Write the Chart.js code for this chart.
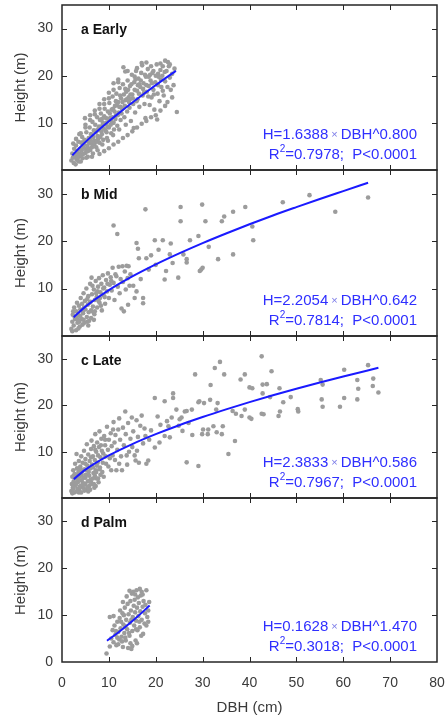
<!DOCTYPE html>
<html>
<head>
<meta charset="utf-8">
<script src="https://cdn.jsdelivr.net/npm/chart.js@4.4.0/dist/chart.umd.min.js"></script>
<style>
  html, body { margin: 0; padding: 0; background: #fff; }
  #wrap { position: relative; width: 448px; height: 719px; overflow: hidden; }
  canvas { position: absolute; left: 0; }
</style>
</head>
<body>
<div id="wrap">
  <canvas id="cA" width="448" height="180" style="top:0px"></canvas>
  <canvas id="cB" width="448" height="186" style="top:160px"></canvas>
  <canvas id="cC" width="448" height="182" style="top:326px"></canvas>
  <canvas id="cD" width="448" height="231" style="top:488px"></canvas>
</div>
<script>
// ── Data: [DBH (cm), Height (m)] ──────────────────────────────────────────
var earlyPts = [
  [2.0,2.0],[2.2,3.5],[2.5,1.5],[2.6,4.5],[2.8,2.8],[3.0,5.2],[3.1,2.2],[3.3,3.8],[3.5,6.0],[3.6,1.8],
  [3.8,4.4],[4.0,3.0],[4.1,5.8],[4.3,7.0],[4.4,2.5],[4.6,4.8],[4.8,6.4],[4.9,11.0],[5.0,3.6],[5.2,8.0],
  [5.4,5.2],[5.5,2.8],[5.7,6.8],[5.9,9.0],[6.0,4.2],[6.2,7.6],[6.3,5.6],[6.5,10.2],[6.6,3.5],[6.8,8.4],
  [7.0,6.2],[7.1,9.6],[7.3,4.8],[7.5,11.2],[7.6,7.2],[7.8,8.8],[8.0,5.8],[8.1,10.6],[8.3,12.0],[8.5,7.6],
  [8.6,9.4],[8.8,6.4],[9.0,11.4],[9.1,13.0],[9.3,8.4],[9.5,10.0],[9.6,6.8],[9.8,12.4],[10.0,9.0],[10.1,14.2],
  [10.3,11.0],[10.5,7.8],[10.6,12.8],[10.8,15.6],[11.0,10.0],[11.1,8.6],[11.3,13.6],[11.5,11.6],[11.6,16.2],[11.8,9.4],
  [12.0,14.4],[12.1,12.2],[12.3,17.4],[12.5,10.6],[12.6,15.2],[12.8,13.0],[13.0,18.2],[13.1,21.8],[13.3,11.2],[13.5,20.9],
  [13.5,14.8],[13.7,16.6],[13.9,12.4],[14.0,19.0],[14.2,15.4],[14.4,13.2],[14.5,17.8],[14.7,10.4],[14.9,20.2],[15.0,16.0],
  [15.2,14.0],[15.3,8.9],[15.4,18.6],[15.6,12.2],[15.8,21.0],[16.0,16.8],[16.1,15.0],[16.3,19.4],[16.5,13.4],[16.7,17.6],
  [16.9,20.6],[17.0,22.7],[17.1,22.2],[17.2,15.8],[17.4,18.4],[17.6,14.0],[17.8,11.0],[17.9,19.8],[18.1,16.6],[18.3,21.4],
  [18.5,17.8],[18.7,13.8],[18.9,19.0],[19.1,15.4],[19.3,20.6],[19.5,17.0],[19.7,12.8],[19.9,18.6],[20.2,22.4],[20.3,10.7],
  [20.4,16.2],[20.6,19.8],[20.8,14.6],[21.0,21.2],[21.2,17.6],[21.4,20.0],[21.7,15.8],[22.0,18.8],[22.3,21.0],[22.5,14.4],
  [22.6,22.9],[22.8,22.0],[23.0,19.6],[23.2,17.0],[23.5,20.4],[23.8,18.0],[24.0,21.5],[24.5,12.3],
  [2.3,2.6],[2.7,3.2],[3.2,4.0],[3.4,2.6],[3.9,3.4],[4.2,4.2],[4.5,3.4],[4.7,5.4],[5.1,4.4],[5.3,6.2],
  [5.6,4.6],[5.8,5.8],[6.1,6.4],[6.4,4.8],[6.7,7.0],[6.9,5.4],[7.2,8.0],[7.4,6.0],[7.7,6.6],[7.9,9.2],
  [8.2,7.0],[8.4,8.2],[8.7,10.0],[8.9,8.8],[9.2,9.8],[9.4,11.0],[9.7,9.2],[9.9,10.8],[10.2,12.0],[10.4,9.6],
  [10.7,11.2],[10.9,13.0],[11.2,12.4],[11.4,10.8],[11.7,13.8],[11.9,11.6],[12.2,13.4],[12.4,15.8],[12.7,12.0],[12.9,14.4],
  [13.2,16.0],[13.4,13.6],[13.8,15.0],[14.1,17.0],[14.3,14.4],[14.6,16.0],[14.8,18.2],[15.1,15.2],[15.5,17.0],[15.7,19.2],
  [15.9,14.6],[16.2,18.0],[16.4,16.2],[16.8,19.0],[17.3,17.2],[17.7,20.2],[18.0,18.0],[18.4,15.6],[18.8,20.2],[19.2,18.4],
  [19.6,16.0],[20.0,20.0],[20.5,18.0],[21.1,19.2],[21.5,16.8],[21.9,20.8],
  [2.4,5.6],[3.7,7.6],[5.0,9.6],[6.0,11.6],[7.0,12.6],[8.0,14.0],[9.0,15.0],[10.0,16.4],[11.0,18.4],[12.0,19.2],
  [2.9,1.2],[4.0,1.8],[5.2,2.6],[6.4,2.8],[7.6,4.2],[8.6,5.4],[9.8,6.2],[10.9,7.4],[12.2,8.6],[13.6,9.6],
  [3.5,3.2],[4.5,5.8],[5.5,4.0],[6.5,6.0],[7.5,8.4],[8.5,10.8],[9.5,8.0],[10.5,10.4],[11.5,14.6],[12.5,13.4],
  [13.5,17.2],[14.5,15.0],[15.5,19.8],[16.5,18.2],[17.5,16.4],[18.5,19.8],[19.5,21.0],[20.5,20.4],[21.5,22.0],[22.5,17.6],
  [23.5,15.4],[3.0,6.6],[4.0,7.8],[5.0,9.0],[6.0,10.6],[7.0,11.8],[8.0,13.0],[9.0,14.0],[10.0,15.2],[11.0,17.0],
  [12.0,18.6],[14.0,21.0],[16.0,21.6],[18.0,22.8],[19.0,22.0],[21.0,22.6],[22.0,23.2],[23.0,22.4],
  [8.0,3.4],[9.0,4.0],[10.0,4.6],[11.0,5.4],[12.0,6.0],[13.0,6.8],[14.0,7.4],[15.0,8.2],[16.0,9.0],[17.0,9.8],
  [18.0,10.4],[19.0,11.2],[20.0,11.6],[21.0,12.6],[22.0,13.6]
];
var midPts = [
  [2.0,1.5],[2.2,3.0],[2.3,4.5],[2.5,2.2],[2.6,6.0],[2.8,3.6],[3.0,5.2],[3.0,1.2],[3.2,7.0],[3.3,2.8],
  [3.5,4.4],[3.6,6.4],[3.8,2.0],[3.9,5.6],[4.0,8.0],[4.2,3.6],[4.3,6.8],[4.5,4.8],[4.6,9.0],[4.8,2.8],
  [4.9,7.4],[5.0,5.6],[5.2,10.0],[5.3,4.0],[5.5,6.6],[5.6,8.4],[5.8,3.2],[5.9,7.0],[6.0,11.0],[6.2,5.4],
  [6.3,12.3],[6.4,8.8],[6.6,6.2],[6.8,9.8],[6.9,4.6],[7.0,7.6],[7.2,11.6],[7.4,8.2],[7.5,6.0],[7.7,10.4],
  [7.9,12.2],[8.0,7.0],[8.2,9.2],[8.4,11.0],[8.5,5.4],[8.7,12.8],[8.9,8.6],[9.0,10.2],[9.2,6.8],[9.4,11.8],
  [9.6,9.4],[9.8,13.2],[10.0,8.0],[10.2,10.8],[10.4,12.4],[10.6,9.6],[10.8,14.4],[11.0,23.3],[11.0,11.2],[11.2,7.6],
  [11.4,13.0],[11.6,12.6],[11.8,21.5],[11.9,10.4],[12.1,14.6],[12.3,9.0],[12.5,12.0],[12.7,5.8],[12.9,14.7],[13.0,11.4],
  [13.2,5.2],[13.4,13.6],[13.6,9.8],[13.8,14.8],[14.0,12.2],[14.2,14.7],[14.4,10.6],[14.6,13.0],[3.4,3.4],[4.4,5.2],
  [5.4,3.0],[6.1,7.2],[6.7,5.0],[7.3,9.0],[8.1,8.0],[8.8,10.0],[9.7,11.0],[10.5,11.6],[2.7,4.0],[3.7,3.0],
  [4.7,6.0],[5.7,5.0],[6.5,10.6],[7.8,7.4],
  [2.4,5.2],[3.1,3.8],[3.9,4.2],[4.6,3.4],[5.4,7.8],[6.2,3.8],[7.0,5.2],[7.6,9.4],[8.3,6.4],[9.1,8.2],
  [2.2,1.0],[3.5,1.6],[4.4,2.4],[5.6,2.2],[6.8,3.4],
  [17.8,26.7],[25.3,27.2],[25.3,24.2],[29.9,27.7],[30.6,24.2],[34.1,24.2],[34.6,25.2],[36.5,26.2],[39.1,27.2],[47.1,28.2],
  [52.8,29.7],[58.3,26.2],[65.3,29.2],[40.6,23.1],[40.8,20.2],[36.5,17.2],[33.3,16.2],[31.3,18.8],[29.4,13.7],[30.0,14.4],
  [29.7,14.0],[27.3,20.2],[29.1,21.1],[26.6,16.2],[26.6,15.5],[24.8,12.3],[23.6,15.4],[21.9,11.9],[22.2,13.7],[19.8,20.2],
  [21.5,20.2],[20.6,18.2],[23.2,19.5],[23.0,17.2],[25.9,17.2],[15.9,19.6],[16.2,18.4],[16.4,16.4],[18.0,16.4],[17.3,8.0],
  [17.3,6.9],[14.1,6.6],[15.5,8.0],[15.9,9.4],[15.2,10.6],[19.0,17.0],[18.5,14.0],[20.0,15.0],[16.8,12.0]
];
var latePts = [
  [2.0,1.5],[2.1,3.0],[2.2,4.6],[2.3,2.2],[2.4,6.0],[2.5,3.6],[2.6,1.2],[2.7,5.2],[2.8,7.4],[2.9,2.8],
  [3.0,4.2],[3.1,9.5],[3.2,6.4],[3.3,2.0],[3.4,3.4],[3.5,5.6],[3.6,8.0],[3.7,1.6],[3.8,4.6],[3.9,6.8],
  [4.0,2.6],[4.1,9.0],[4.2,3.8],[4.3,5.8],[4.4,7.6],[4.5,2.2],[4.6,4.4],[4.7,10.2],[4.8,6.2],[4.9,3.0],
  [5.0,8.4],[5.1,5.0],[5.2,1.8],[5.3,11.6],[5.4,7.0],[5.5,3.6],[5.6,9.4],[5.7,5.6],[5.8,2.6],[5.9,8.0],
  [6.0,6.4],[6.1,4.0],[6.2,10.6],[6.3,12.4],[6.4,7.2],[6.5,3.0],[6.6,9.0],[6.7,5.4],[6.8,11.2],[6.9,2.2],
  [7.0,8.2],[7.1,13.8],[7.2,6.0],[7.3,10.0],[7.4,4.2],[7.5,12.0],[7.6,7.6],[7.7,9.2],[7.8,3.4],[7.9,11.0],
  [8.0,14.4],[8.1,6.6],[8.2,8.8],[8.4,12.8],[8.5,10.2],[8.6,5.6],[8.8,9.6],[9.0,13.4],[9.2,11.4],[9.4,7.4],
  [9.6,15.4],[9.8,10.4],[10.0,12.6],[10.2,8.6],[10.4,14.0],[10.6,11.2],[10.8,9.2],[11.0,16.4],[11.2,12.0],[11.4,13.6],
  [11.6,6.0],[11.8,10.4],[12.0,14.8],[12.2,17.2],[12.4,12.6],[12.6,9.0],[12.8,6.0],[13.0,15.2],[13.2,11.4],[13.5,18.7],
  [13.6,13.8],[13.9,7.2],[14.1,16.2],[14.3,10.0],[14.6,12.8],[14.9,17.4],[15.2,14.4],[15.5,9.2],[15.7,8.1],[15.9,16.8],
  [16.2,13.2],[16.4,7.6],[16.7,15.6],[17.0,17.8],[17.3,11.8],[17.6,15.0],[2.6,2.6],[3.0,3.0],[3.4,4.0],[3.8,2.4],
  [4.2,5.0],[4.6,3.2],[5.0,4.4],[5.4,2.4],[5.8,4.8],[6.2,3.4],[6.6,6.6],[7.0,4.8],[7.4,7.0],[8.2,5.0],
  [2.2,1.0],[3.6,1.2],[4.8,1.6],[6.0,1.8],[7.2,2.6],
  [2.5,4.8],[3.2,5.0],[3.9,5.2],[4.4,3.0],[5.2,6.0],[5.9,3.6],[6.6,4.2],[7.3,5.6],[8.0,6.2],[8.7,7.6],
  [9.3,9.0],[9.9,6.8],[2.4,2.0],[3.1,1.4],[4.1,1.2],[5.6,1.4],[6.8,3.0],[7.7,4.2],[8.9,4.6],[10.5,6.0],
  [11.3,8.2],[12.2,7.4],[13.8,9.2],[15.0,11.0],[16.0,10.2],[10.9,14.8],[9.2,12.6],[8.3,11.4],[7.1,10.4],[6.2,8.8],
  [5.0,7.4],[4.0,6.2],
  [18.0,7.4],[18.4,8.1],[19.8,10.9],[19.8,21.6],[21.9,20.9],[21.9,13.4],[22.7,15.5],[23.0,13.1],[23.4,17.4],[23.7,22.6],
  [23.7,21.6],[24.4,19.1],[25.1,17.0],[25.5,17.4],[25.7,14.5],[26.2,18.7],[26.6,18.8],[26.6,7.7],[27.7,19.1],[27.8,13.6],
  [28.4,26.7],[29.1,20.7],[29.1,6.9],[29.3,20.9],[29.9,13.8],[30.1,14.8],[30.3,20.5],[31.1,13.8],[31.2,14.8],[31.6,21.2],
  [31.7,24.4],[32.3,15.5],[32.6,28.1],[32.9,19.1],[33.0,14.2],[33.2,20.5],[33.7,29.4],[34.1,13.8],[34.3,15.5],[34.6,26.7],
  [35.5,9.5],[36.4,18.8],[36.9,12.3],[37.1,18.2],[38.1,25.6],[38.3,17.7],[39.0,26.7],[39.0,19.1],[40.0,23.9],[40.0,17.4],
  [40.4,17.1],[40.6,23.7],[42.6,30.6],[42.6,18.2],[42.8,24.5],[42.8,22.6],[43.0,18.1],[43.7,24.6],[44.4,21.8],[44.7,27.4],
  [46.2,17.7],[46.4,23.7],[46.5,18.7],[47.2,20.7],[48.8,21.8],[50.3,19.2],[50.4,18.7],[55.2,25.5],[55.6,24.5],[55.4,21.3],
  [55.6,19.7],[59.3,19.7],[60.2,27.7],[60.2,21.6],[63.0,25.5],[63.2,23.6],[63.0,21.3],[65.3,28.7],[66.4,25.8],[66.3,24.2],
  [67.5,22.8],[20.8,12.0],[22.4,16.6],[24.9,15.6],[27.0,16.2],[19.0,14.6],[21.0,15.8],[18.6,12.6],[20.4,17.6],[17.8,13.4]
];
var palmPts = [
  [9.5,1.8],[10.2,3.3],[10.2,9.6],[10.5,5.0],[10.8,6.8],[11.0,4.2],[11.2,7.8],[11.4,5.8],[11.6,3.6],[11.8,8.6],
  [12.0,6.4],[12.2,4.8],[12.3,9.4],[12.5,7.2],[12.7,5.4],[12.9,10.4],[13.0,3.2],[13.1,8.0],[13.3,6.2],[13.4,11.6],
  [13.6,4.6],[13.7,9.0],[13.9,7.0],[14.0,12.4],[14.1,3.0],[14.2,10.2],[14.4,5.6],[14.5,8.4],[14.6,13.0],[14.7,11.0],
  [14.9,14.6],[15.0,6.6],[15.1,9.6],[15.2,15.0],[15.3,12.0],[15.4,7.8],[15.5,13.3],[15.6,10.6],[15.7,4.6],[15.8,8.8],
  [15.9,15.3],[16.0,11.6],[16.1,6.8],[16.2,13.8],[16.3,9.8],[16.4,12.6],[16.6,7.4],[16.7,10.8],[16.8,14.2],[17.0,15.0],
  [17.0,9.0],[17.2,11.8],[17.3,6.0],[17.4,13.0],[17.6,8.2],[17.7,10.4],[17.8,12.2],[18.0,15.3],[18.0,7.8],[18.2,9.6],
  [18.4,11.0],[13.5,7.6],[14.8,9.0],[12.6,8.6],[11.5,6.6],[16.5,8.6],[14.3,6.2],[15.8,7.0],[13.2,10.0],[12.0,3.8],
  [14.6,4.0],[15.0,3.4],
  [11.0,9.8],[12.4,11.0],[13.0,12.8],[13.8,14.0],[14.4,15.2],[15.6,14.4],[16.6,15.6],[17.2,14.4],[18.4,8.6],[18.6,12.8],
  [16.9,5.6],[16.0,4.0],[14.8,2.8],[13.5,5.2],[12.8,4.4],[11.8,5.2]
];

// fitted curves as drawn
var earlyFitX = [2.2, 4, 6, 8, 10, 12, 14, 16, 18, 20, 22, 24.3];
var earlyFitH = [3.1, 4.97, 6.87, 8.65, 10.34, 11.96, 13.54, 15.06, 16.55, 18.01, 19.43, 21.03];
var midFitX = [2.5, 5, 10, 15, 20, 25, 30, 35, 40, 45, 50, 55, 60, 65.3];
var midFitH = [3.97, 6.19, 9.67, 12.55, 15.09, 17.41, 19.58, 21.61, 23.55, 25.41, 27.17, 28.89, 30.55, 32.3];
var lateFitX = [2.5, 5, 10, 15, 20, 25, 30, 35, 40, 45, 50, 55, 60, 67.5];
var lateFitH = [4.08, 6.12, 9.19, 11.65, 13.79, 15.72, 17.49, 19.14, 20.71, 22.19, 23.59, 24.95, 26.24, 28.12];
var palmFitX = [9.6, 12, 14, 16, 18.7];
var palmFitH = [4.53, 6.29, 7.88, 9.59, 12.06];

var panelLabels = ['a Early', 'b Mid', 'c Late', 'd Palm'];
var eqLines = ['H=1.6388', 'H=2.2054', 'H=2.3833', 'H=0.1628'];
var eqExps = ['DBH^0.800', 'DBH^0.642', 'DBH^0.586', 'DBH^1.470'];
var r2Vals = ['=0.7978;  P<0.0001', '=0.7814;  P<0.0001', '=0.7967;  P<0.0001', '=0.3018;  P<0.0001'];

// ── Style ─────────────────────────────────────────────────────────────────
var FONT = '"Liberation Sans", Arial, Helvetica, sans-serif';
var AXIS_C = '#3a3a3a';
var DOT_C = '#9c9c9c';
var FIT_C = '#1a1aff';
var TXT_B = '#2f2fff';

Chart.defaults.font.family = FONT;
Chart.defaults.color = AXIS_C;

function drawRuns(ctx, runs, xRight, y) {
  var total = 0;
  runs.forEach(function (r) { ctx.font = r.font; r.w = ctx.measureText(r.text).width; total += r.w; });
  var x = xRight - total;
  runs.forEach(function (r) {
    ctx.font = r.font;
    ctx.fillStyle = r.color;
    ctx.fillText(r.text, x, y + (r.dy || 0));
    x += r.w;
  });
}

var framePlugin = {
  id: 'frame',
  afterDatasetsDraw: function (chart, args, o) {
    var ctx = chart.ctx, a = chart.chartArea;
    var xs = chart.scales.x, ys = chart.scales.y;
    ctx.save();
    ctx.strokeStyle = '#262626';
    ctx.lineWidth = 1.5;
    ctx.strokeRect(a.left, a.top, a.right - a.left, a.bottom - a.top);
    ctx.lineWidth = 1;
    ctx.beginPath();
    xs.ticks.forEach(function (t) {
      if (t.value <= xs.min || t.value >= xs.max) { return; }
      var px = Math.round(xs.getPixelForValue(t.value)) + 0.5;
      ctx.moveTo(px, a.top); ctx.lineTo(px, a.top + 5);
      ctx.moveTo(px, a.bottom); ctx.lineTo(px, a.bottom - 5);
    });
    ys.ticks.forEach(function (t) {
      if (t.value <= ys.min || t.value >= ys.max) { return; }
      var py = Math.round(ys.getPixelForValue(t.value)) + 0.5;
      ctx.moveTo(a.left, py); ctx.lineTo(a.left + 5, py);
      ctx.moveTo(a.right, py); ctx.lineTo(a.right - 5, py);
    });
    ctx.stroke();

    // panel label
    ctx.textBaseline = 'middle';
    ctx.textAlign = 'left';
    ctx.fillStyle = '#111';
    ctx.font = 'bold 14px ' + FONT;
    ctx.fillText(o.label, a.left + 19, a.top + 25);

    // equation
    var main = '15px ' + FONT;
    drawRuns(ctx, [
      { text: o.eq, font: main, color: TXT_B },
      { text: ' \u00d7 ', font: '11px ' + FONT, color: '#7a7ae8' },
      { text: o.exp, font: main, color: TXT_B }
    ], a.right - 20, a.bottom - 35);
    drawRuns(ctx, [
      { text: 'R', font: main, color: TXT_B },
      { text: '2', font: '10px ' + FONT, color: TXT_B, dy: -6 },
      { text: o.r2, font: main, color: TXT_B }
    ], a.right - 20, a.bottom - 15);
    ctx.restore();
  }
};

function toXY(pts) { return pts.map(function (p) { return { x: p[0], y: p[1] }; }); }
function fitXY(xs, hs) { return xs.map(function (x, i) { return { x: x, y: hs[i] }; }); }

function makePanel(id, idx, pts, fitX, fitH, padTop, padBottom, bottom) {
  new Chart(document.getElementById(id), {
    type: 'scatter',
    data: {
      datasets: [
        {
          type: 'line',
          data: fitXY(fitX, fitH),
          borderColor: FIT_C,
          borderWidth: 2,
          pointRadius: 0,
          fill: false,
          cubicInterpolationMode: 'monotone',
          order: 0
        },
        {
          data: toXY(pts),
          backgroundColor: DOT_C,
          borderWidth: 0,
          pointRadius: 2.3,
          order: 1
        }
      ]
    },
    options: {
      responsive: false,
      animation: false,
      events: [],
      devicePixelRatio: 1,
      layout: { padding: { left: 0, right: 11, top: padTop, bottom: padBottom } },
      plugins: {
        legend: { display: false },
        tooltip: { enabled: false },
        frame: { label: panelLabels[idx], eq: eqLines[idx], exp: eqExps[idx], r2: r2Vals[idx] }
      },
      scales: {
        x: {
          type: 'linear',
          min: 0, max: 80,
          display: bottom,
          grid: { display: false, drawTicks: false },
          border: { display: false },
          ticks: { stepSize: 10, padding: 13, color: AXIS_C, font: { size: 14 } },
          title: { display: true, text: 'DBH (cm)', color: AXIS_C, font: { size: 15 }, padding: { top: 0, bottom: 2 } },
          afterFit: function (s) {
            s.height = bottom ? 57 : 0;
            s.paddingLeft = 0; s.paddingRight = 0;
          }
        },
        y: {
          type: 'linear',
          min: 0, max: 35,
          grid: { display: false, drawTicks: false },
          border: { display: false },
          ticks: { stepSize: 10, padding: 9, color: AXIS_C, font: { size: 14 } },
          title: { display: true, text: 'Height (m)', color: AXIS_C, font: { size: 15 }, padding: { top: 12, bottom: 0 } },
          afterBuildTicks: function (s) {
            s.ticks = s.ticks.filter(function (t) {
              return t.value % 10 === 0 && (bottom || t.value !== 0);
            });
          },
          afterFit: function (s) {
            s.width = 62;
            s.paddingTop = 0; s.paddingBottom = 0;
          }
        }
      }
    },
    plugins: [framePlugin]
  });
}

makePanel('cA', 0, earlyPts, earlyFitX, earlyFitH, 5, 10, false);
makePanel('cB', 1, midPts, midFitX, midFitH, 10, 10, false);
makePanel('cC', 2, latePts, lateFitX, lateFitH, 10, 10, false);
makePanel('cD', 3, palmPts, palmFitX, palmFitH, 10, 0, true);
</script>
</body>
</html>
